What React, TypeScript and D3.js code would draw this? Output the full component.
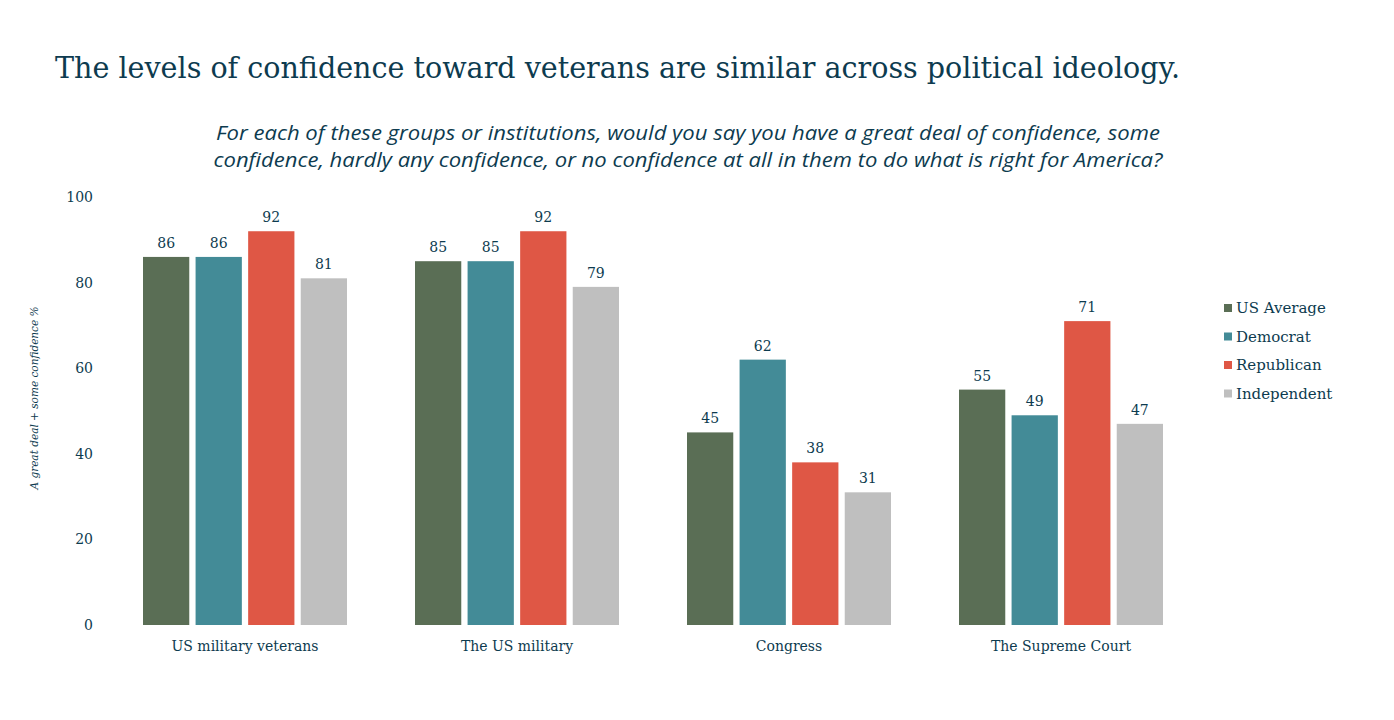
import React from "react";
import * as d3 from "d3";

const categories = ["US military veterans", "The US military", "Congress", "The Supreme Court"];
const seriesNames = ["US Average", "Democrat", "Republican", "Independent"];
const usAverage = [86, 85, 45, 55];
const democrat = [86, 85, 62, 49];
const republican = [92, 92, 38, 71];
const independent = [81, 79, 31, 47];
const yTicks = [0, 20, 40, 60, 80, 100];
const colors = ["#5a6e55", "#438b97", "#df5745", "#bfbfbf"];

const title = "The levels of confidence toward veterans are similar across political ideology.";
const subtitle1 = "For each of these groups or institutions, would you say you have a great deal of confidence, some";
const subtitle2 = "confidence, hardly any confidence, or no confidence at all in them to do what is right for America?";
const yTitle = "A great deal + some confidence %";

const textColor = "#0d3b4f";
const serif = "'DejaVu Serif', 'Liberation Serif', serif";
const sansItalic = "'Open Sans', 'Noto Sans', sans-serif";

export default function App() {
  const W = 1394, H = 720;
  const series = [usAverage, democrat, republican, independent];
  const y = d3.scaleLinear().domain([0, 100]).range([625, 197]);
  const x0 = d3.scaleBand<string>().domain(categories).range([109, 1197]).paddingInner(0.25).paddingOuter(0.125);
  const x1 = d3.scaleBand<string>().domain(seriesNames).range([0, x0.bandwidth()]).paddingInner(0.12);

  return (
    <svg width={W} height={H} style={{ position: "absolute", left: 0, top: 0, background: "#fff" }}>
      <text x={55} y={78} fontFamily={serif} fontSize={29} fill={textColor} textLength={1125} lengthAdjust="spacingAndGlyphs">{title}</text>
      <text x={688} y={140} textAnchor="middle" fontFamily={sansItalic} fontStyle="italic" fontSize={20} fill={textColor} textLength={944} lengthAdjust="spacingAndGlyphs">{subtitle1}</text>
      <text x={688} y={167} textAnchor="middle" fontFamily={sansItalic} fontStyle="italic" fontSize={20} fill={textColor} textLength={949} lengthAdjust="spacingAndGlyphs">{subtitle2}</text>

      {yTicks.map(t => (
        <text key={t} x={93} y={y(t)} dy="0.35em" textAnchor="end" fontFamily={serif} fontSize={14} fill={textColor}>{t}</text>
      ))}
      <text transform={`translate(38,398) rotate(-90)`} textAnchor="middle" fontFamily={serif} fontStyle="italic" fontSize={10.5} fill={textColor}>{yTitle}</text>

      {categories.map((c, ci) => (
        <g key={c} transform={`translate(${x0(c)},0)`}>
          {seriesNames.map((s, si) => {
            const v = series[si][ci];
            const bx = x1(s)!;
            return (
              <g key={s}>
                <rect x={bx} y={y(v)} width={x1.bandwidth()} height={y(0) - y(v)} fill={colors[si]} />
                <text x={bx + x1.bandwidth() / 2} y={y(v) - 9} textAnchor="middle" fontFamily={serif} fontSize={14} fill={textColor}>{v}</text>
              </g>
            );
          })}
          <text x={x0.bandwidth() / 2} y={651} textAnchor="middle" fontFamily={serif} fontSize={14} fill={textColor}>{c}</text>
        </g>
      ))}

      {seriesNames.map((s, i) => (
        <g key={s} transform={`translate(1224,${308 + i * 28.5})`}>
          <rect x={0} y={-4} width={8} height={8} fill={colors[i]} />
          <text x={12} y={0} dy="0.35em" fontFamily={serif} fontSize={15} fill={textColor}>{s}</text>
        </g>
      ))}
    </svg>
  );
}
